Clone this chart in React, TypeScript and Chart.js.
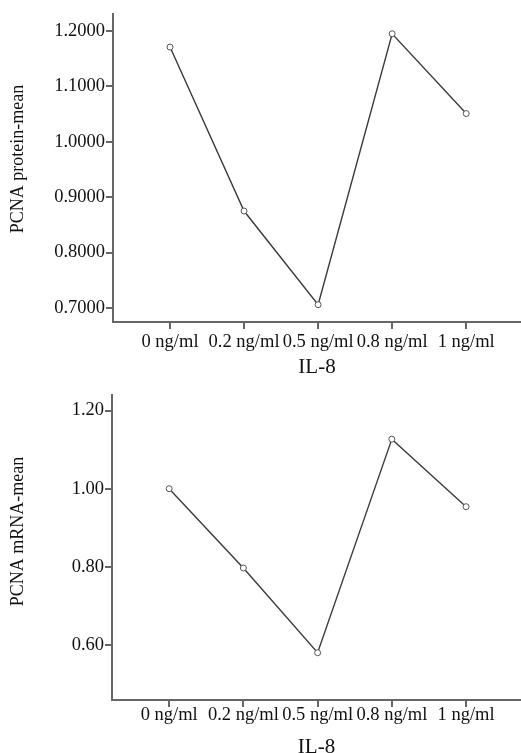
import React, { useEffect, useRef } from 'react';
import { Chart, registerables } from 'chart.js';
Chart.register(...registerables);

const categories = ['0 ng/ml', '0.2 ng/ml', '0.5 ng/ml', '0.8 ng/ml', '1 ng/ml'];
const proteinMeans = [1.171, 0.875, 0.706, 1.195, 1.051];
const mrnaMeans = [1.0, 0.797, 0.58, 1.127, 0.954];
const proteinTicks = [0.7, 0.8, 0.9, 1.0, 1.1, 1.2];
const mrnaTicks = [0.6, 0.8, 1.0, 1.2];
const xTitle = 'IL-8';
const proteinTitle = 'PCNA protein-mean';
const mrnaTitle = 'PCNA mRNA-mean';

const FONT = "'Liberation Serif', 'Times New Roman', serif";
const AXIS = '#666';
const TEXT = '#111';

type P = {
  values: number[];
  yTitle: string;
  yTicks: number[];
  decimals: number;
  yMin: number;
  yMax: number;
  padTop: number;
  axisLeft: number;
  xScaleHeight: number;
  xTickPad: number;
  titlePadBottom: number;
  yTitleShift: number;
  width: number;
  height: number;
};

function LineChart(p: P) {
  const ref = useRef<HTMLCanvasElement | null>(null);
  useEffect(() => {
    if (!ref.current) return;
    const yTitlePlugin = {
      id: 'yTitle',
      afterDraw(chart: any) {
        const { ctx, chartArea } = chart;
        ctx.save();
        ctx.fillStyle = TEXT;
        ctx.font = `18px ${FONT}`;
        ctx.textAlign = 'center';
        ctx.textBaseline = 'middle';
        ctx.translate(18, (chartArea.top + chartArea.bottom) / 2 - p.yTitleShift);
        ctx.rotate(-Math.PI / 2);
        ctx.fillText(p.yTitle, 0, 0);
        ctx.restore();
      },
    };
    const chart = new Chart(ref.current, {
      type: 'line',
      data: {
        datasets: [
          {
            data: p.values.map((v, i) => ({ x: i, y: v })),
            borderColor: '#3a3a3a',
            borderWidth: 1.4,
            pointRadius: 3,
            pointBorderWidth: 1,
            pointBackgroundColor: '#fff',
            pointBorderColor: '#555',
            fill: false,
            tension: 0,
          },
        ],
      },
      plugins: [yTitlePlugin],
      options: {
        responsive: false,
        animation: false,
        layout: { autoPadding: false, padding: { top: p.padTop, left: 0, right: 0, bottom: 0 } },
        plugins: { legend: { display: false }, tooltip: { enabled: false } },
        scales: {
          x: {
            type: 'linear',
            min: -0.77,
            max: 4.74,
            afterBuildTicks: (scale: any) => {
              scale.ticks = categories.map((_, i) => ({ value: i }));
            },
            afterFit: (scale: any) => {
              scale.height = p.xScaleHeight;
              scale.paddingLeft = 0;
              scale.paddingRight = 0;
            },
            grid: {
              drawOnChartArea: false,
              drawTicks: true,
              tickLength: 7,
              color: AXIS,
              lineWidth: 2,
            },
            border: { display: true, color: AXIS, width: 2 },
            ticks: {
              autoSkip: false,
              maxRotation: 0,
              padding: p.xTickPad,
              color: TEXT,
              font: { family: FONT, size: 18.5 },
              callback: (v: any) => categories[Math.round(Number(v))] ?? '',
            },
            title: {
              display: true,
              text: xTitle,
              color: TEXT,
              font: { family: FONT, size: 21, lineHeight: 1 },
              padding: { top: 0, bottom: p.titlePadBottom },
            },
          },
          y: {
            type: 'linear',
            min: p.yMin,
            max: p.yMax,
            afterBuildTicks: (scale: any) => {
              scale.ticks = p.yTicks.map((v) => ({ value: v }));
            },
            afterFit: (scale: any) => {
              scale.width = p.axisLeft;
              scale.paddingTop = 0;
              scale.paddingBottom = 0;
            },
            grid: {
              drawOnChartArea: false,
              drawTicks: true,
              tickLength: 7,
              color: AXIS,
              lineWidth: 2,
            },
            border: { display: true, color: AXIS, width: 2 },
            ticks: {
              padding: 1,
              color: TEXT,
              font: { family: FONT, size: 18.5 },
              callback: (v: any) => Number(v).toFixed(p.decimals),
            },
            title: { display: false },
          },
        },
      },
    } as any);
    return () => chart.destroy();
  }, []);
  return <canvas ref={ref} width={p.width} height={p.height} style={{ display: 'block', width: p.width, height: p.height }} />;
}

export default function App() {
  return (
    <div style={{ position: 'absolute', left: 0, top: 0, width: 521, height: 753, background: '#fff', overflow: 'hidden' }}>
      <LineChart
        values={proteinMeans}
        yTitle={proteinTitle}
        yTicks={proteinTicks}
        decimals={4}
        yMin={0.6747}
        yMax={1.2307}
        padTop={14}
        axisLeft={113}
        xScaleHeight={378 - 322}
        xTickPad={2}
        titlePadBottom={0}
        yTitleShift={9}
        width={521}
        height={378}
      />
      <LineChart
        values={mrnaMeans}
        yTitle={mrnaTitle}
        yTicks={mrnaTicks}
        decimals={2}
        yMin={0.459}
        yMax={1.24}
        padTop={17}
        axisLeft={112}
        xScaleHeight={375 - 322}
        xTickPad={-3}
        titlePadBottom={-5}
        yTitleShift={16}
        width={521}
        height={375}
      />
    </div>
  );
}
